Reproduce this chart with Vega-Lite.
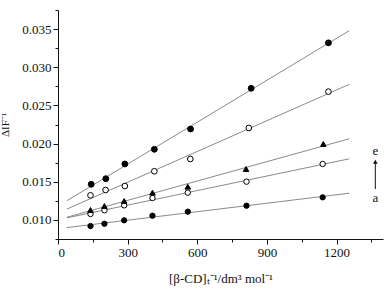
{
  "$schema": "https://vega.github.io/schema/vega-lite/v6.json",
  "width": 325,
  "height": 229,
  "autosize": {"type": "none"},
  "padding": {"left": 58, "top": 10, "right": 9, "bottom": 50},
  "background": "white",
  "config": {
    "view": {"stroke": null},
    "font": "Liberation Serif",
    "axis": {
      "labelFont": "Liberation Serif",
      "titleFont": "Liberation Serif",
      "labelFontSize": 13,
      "titleFontSize": 13,
      "titleFontWeight": "normal",
      "labelColor": "#111",
      "titleColor": "#111",
      "domainColor": "#111",
      "tickColor": "#111",
      "labelOverlap": false,
      "grid": false
    }
  },
  "datasets": {
    "pts": [
      {"series": "a", "x": 140, "y": 0.0092},
      {"series": "a", "x": 200, "y": 0.0095},
      {"series": "a", "x": 285, "y": 0.00995},
      {"series": "a", "x": 407, "y": 0.01055},
      {"series": "a", "x": 559, "y": 0.01108},
      {"series": "a", "x": 812, "y": 0.01186},
      {"series": "a", "x": 1140, "y": 0.01296},
      {"series": "b", "x": 140, "y": 0.01078},
      {"series": "b", "x": 200, "y": 0.01126},
      {"series": "b", "x": 285, "y": 0.01191},
      {"series": "b", "x": 407, "y": 0.01287},
      {"series": "b", "x": 559, "y": 0.01357},
      {"series": "b", "x": 812, "y": 0.01501},
      {"series": "b", "x": 1140, "y": 0.01733},
      {"series": "c", "x": 140, "y": 0.0113},
      {"series": "c", "x": 200, "y": 0.01182},
      {"series": "c", "x": 285, "y": 0.01248},
      {"series": "c", "x": 407, "y": 0.01357},
      {"series": "c", "x": 559, "y": 0.01435},
      {"series": "c", "x": 810, "y": 0.01667},
      {"series": "c", "x": 1143, "y": 0.01995},
      {"series": "d", "x": 140, "y": 0.01322},
      {"series": "d", "x": 205, "y": 0.01392},
      {"series": "d", "x": 288, "y": 0.01444},
      {"series": "d", "x": 415, "y": 0.01637},
      {"series": "d", "x": 570, "y": 0.01798},
      {"series": "d", "x": 822, "y": 0.02205},
      {"series": "d", "x": 1165, "y": 0.0268},
      {"series": "e", "x": 143, "y": 0.01467},
      {"series": "e", "x": 206, "y": 0.0154},
      {"series": "e", "x": 288, "y": 0.01733},
      {"series": "e", "x": 415, "y": 0.01925},
      {"series": "e", "x": 571, "y": 0.02191},
      {"series": "e", "x": 832, "y": 0.02724},
      {"series": "e", "x": 1165, "y": 0.0332}
    ],
    "labels": [
      {"x": 1367, "y": 0.01903, "t": "e"},
      {"x": 1367, "y": 0.01287, "t": "a"}
    ],
    "arrow": [
      {"x": 1367, "y": 0.01405, "y2": 0.01763}
    ]
  },
  "layer": [
    {
      "data": {"name": "pts"},
      "transform": [
        {"regression": "y", "on": "x", "groupby": ["series"], "extent": [38, 1255]}
      ],
      "mark": {"type": "line", "color": "#8a8a8a", "strokeWidth": 1},
      "encoding": {
        "x": {
          "field": "x", "type": "quantitative",
          "scale": {"domain": [0, 1400], "nice": false},
          "axis": {
            "values": [0, 150, 300, 450, 600, 750, 900, 1050, 1200, 1350],
            "tickCount": 40,
            "format": "d",
            "labelExpr": "datum.value % 300 === 0 ? datum.label : ''",
            "tickSize": {"expr": "datum.value % 300 === 0 ? 5 : 3"},
            "labelPadding": 2,
            "title": "[β-CD]ₜ⁻¹/dm³ mol⁻¹",
            "titlePadding": 13
          }
        },
        "y": {
          "field": "y", "type": "quantitative",
          "scale": {"domain": [0.0075, 0.0375], "nice": false, "zero": false},
          "axis": {
            "values": [0.0075, 0.01, 0.0125, 0.015, 0.0175, 0.02, 0.0225, 0.025, 0.0275, 0.03, 0.0325, 0.035, 0.0375],
            "tickCount": 40,
            "format": ".3f",
            "labelExpr": "indexof(['0.010','0.015','0.020','0.025','0.030','0.035'], datum.label) >= 0 ? datum.label : ''",
            "tickSize": {"expr": "indexof(['0.010','0.015','0.020','0.025','0.030','0.035'], format(datum.value, '.3f')) >= 0 ? 5 : 3"},
            "labelPadding": 2,
            "title": "ΔIF⁻¹",
            "titleFontSize": 11,
            "titlePadding": 11
          }
        },
        "detail": {"field": "series"}
      }
    },
    {
      "data": {"name": "pts"},
      "mark": {"type": "point", "stroke": "black", "strokeWidth": 1, "opacity": 1},
      "encoding": {
        "x": {"field": "x", "type": "quantitative"},
        "y": {"field": "y", "type": "quantitative"},
        "shape": {
          "field": "series", "type": "nominal",
          "scale": {"domain": ["a", "b", "c", "d", "e"], "range": ["circle", "circle", "triangle-up", "circle", "circle"]},
          "legend": null
        },
        "fill": {
          "field": "series", "type": "nominal",
          "scale": {"domain": ["a", "b", "c", "d", "e"], "range": ["black", "white", "black", "white", "black"]},
          "legend": null
        },
        "size": {
          "field": "series", "type": "nominal",
          "scale": {"domain": ["a", "b", "c", "d", "e"], "range": [28, 34, 34, 34, 28]},
          "legend": null
        }
      }
    },
    {
      "data": {"name": "arrow"},
      "mark": {"type": "rule", "color": "#111", "strokeWidth": 1},
      "encoding": {
        "x": {"field": "x", "type": "quantitative"},
        "y": {"field": "y", "type": "quantitative"},
        "y2": {"field": "y2"}
      }
    },
    {
      "data": {"name": "arrow"},
      "mark": {"type": "point", "shape": "triangle-up", "filled": true, "color": "#111", "size": 22, "opacity": 1},
      "encoding": {
        "x": {"field": "x", "type": "quantitative"},
        "y": {"field": "y2", "type": "quantitative"}
      }
    },
    {
      "data": {"name": "labels"},
      "mark": {"type": "text", "font": "Liberation Serif", "fontSize": 13, "color": "#111", "baseline": "middle", "align": "center"},
      "encoding": {
        "x": {"field": "x", "type": "quantitative"},
        "y": {"field": "y", "type": "quantitative"},
        "text": {"field": "t"}
      }
    }
  ]
}
